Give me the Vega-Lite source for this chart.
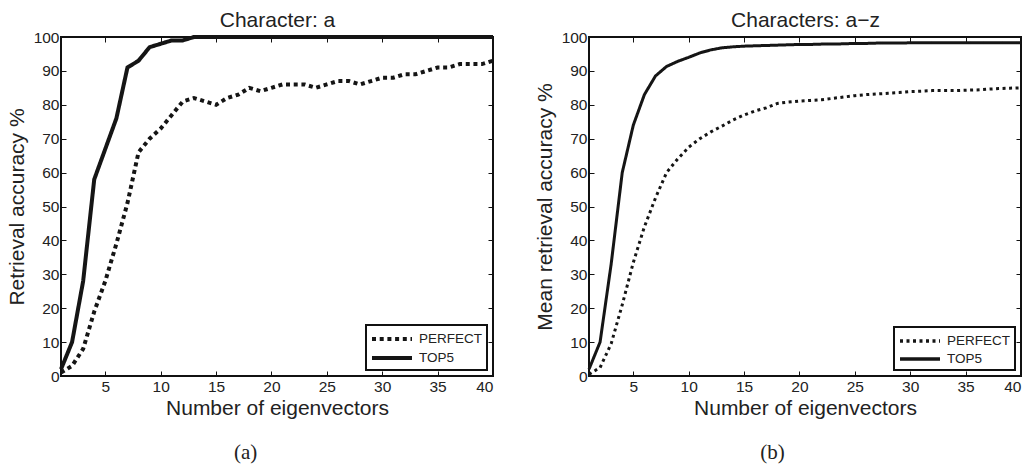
{
  "$schema": "https://vega.github.io/schema/vega-lite/v6.json",
  "padding": {"left": 5, "top": 8, "right": 5, "bottom": 5},
  "background": "white",
  "config": {
    "font": "Liberation Sans",
    "view": {"stroke": "#111", "strokeWidth": 2},
    "axis": {"grid": false, "domain": false, "tickColor": "#111", "tickWidth": 1, "tickSize": -5, "labelPadding": 8, "labelFontSize": 15.5, "labelColor": "#222", "titleFontSize": 21, "titleFontWeight": "normal", "titleColor": "#222"},
    "legend": {"strokeWidth": 2}
  },
  "datasets": {
    "a": [
      {"n": 1, "PERFECT": 1, "TOP5": 2}, {"n": 2, "PERFECT": 3, "TOP5": 10}, {"n": 3, "PERFECT": 8, "TOP5": 28},
      {"n": 4, "PERFECT": 19, "TOP5": 58}, {"n": 5, "PERFECT": 28, "TOP5": 67}, {"n": 6, "PERFECT": 39, "TOP5": 76},
      {"n": 7, "PERFECT": 51, "TOP5": 91}, {"n": 8, "PERFECT": 66, "TOP5": 93}, {"n": 9, "PERFECT": 70, "TOP5": 97},
      {"n": 10, "PERFECT": 73, "TOP5": 98}, {"n": 11, "PERFECT": 77, "TOP5": 99}, {"n": 12, "PERFECT": 81, "TOP5": 99},
      {"n": 13, "PERFECT": 82, "TOP5": 100}, {"n": 14, "PERFECT": 81, "TOP5": 100}, {"n": 15, "PERFECT": 80, "TOP5": 100},
      {"n": 16, "PERFECT": 82, "TOP5": 100}, {"n": 17, "PERFECT": 83, "TOP5": 100}, {"n": 18, "PERFECT": 85, "TOP5": 100},
      {"n": 19, "PERFECT": 84, "TOP5": 100}, {"n": 20, "PERFECT": 85, "TOP5": 100}, {"n": 21, "PERFECT": 86, "TOP5": 100},
      {"n": 22, "PERFECT": 86, "TOP5": 100}, {"n": 23, "PERFECT": 86, "TOP5": 100}, {"n": 24, "PERFECT": 85, "TOP5": 100},
      {"n": 25, "PERFECT": 86, "TOP5": 100}, {"n": 26, "PERFECT": 87, "TOP5": 100}, {"n": 27, "PERFECT": 87, "TOP5": 100},
      {"n": 28, "PERFECT": 86, "TOP5": 100}, {"n": 29, "PERFECT": 87, "TOP5": 100}, {"n": 30, "PERFECT": 88, "TOP5": 100},
      {"n": 31, "PERFECT": 88, "TOP5": 100}, {"n": 32, "PERFECT": 89, "TOP5": 100}, {"n": 33, "PERFECT": 89, "TOP5": 100},
      {"n": 34, "PERFECT": 90, "TOP5": 100}, {"n": 35, "PERFECT": 91, "TOP5": 100}, {"n": 36, "PERFECT": 91, "TOP5": 100},
      {"n": 37, "PERFECT": 92, "TOP5": 100}, {"n": 38, "PERFECT": 92, "TOP5": 100}, {"n": 39, "PERFECT": 92, "TOP5": 100},
      {"n": 40, "PERFECT": 93, "TOP5": 100}
    ],
    "b": [
      {"n": 1, "PERFECT": 0.5, "TOP5": 2}, {"n": 2, "PERFECT": 2.5, "TOP5": 10}, {"n": 3, "PERFECT": 9.5, "TOP5": 33},
      {"n": 4, "PERFECT": 21, "TOP5": 60}, {"n": 5, "PERFECT": 33.5, "TOP5": 74}, {"n": 6, "PERFECT": 44, "TOP5": 83},
      {"n": 7, "PERFECT": 52.5, "TOP5": 88.5}, {"n": 8, "PERFECT": 60, "TOP5": 91.3}, {"n": 9, "PERFECT": 64, "TOP5": 92.8},
      {"n": 10, "PERFECT": 67.5, "TOP5": 94}, {"n": 11, "PERFECT": 70, "TOP5": 95.3}, {"n": 12, "PERFECT": 72, "TOP5": 96.2},
      {"n": 13, "PERFECT": 73.7, "TOP5": 96.8}, {"n": 14, "PERFECT": 75.5, "TOP5": 97.1}, {"n": 15, "PERFECT": 77, "TOP5": 97.3},
      {"n": 16, "PERFECT": 78.2, "TOP5": 97.4}, {"n": 17, "PERFECT": 79.1, "TOP5": 97.5}, {"n": 18, "PERFECT": 80.4, "TOP5": 97.6},
      {"n": 19, "PERFECT": 80.8, "TOP5": 97.7}, {"n": 20, "PERFECT": 81.1, "TOP5": 97.8}, {"n": 21, "PERFECT": 81.3, "TOP5": 97.8},
      {"n": 22, "PERFECT": 81.5, "TOP5": 97.9}, {"n": 23, "PERFECT": 81.9, "TOP5": 97.9}, {"n": 24, "PERFECT": 82.3, "TOP5": 98},
      {"n": 25, "PERFECT": 82.7, "TOP5": 98.1}, {"n": 26, "PERFECT": 83, "TOP5": 98.1}, {"n": 27, "PERFECT": 83.2, "TOP5": 98.2},
      {"n": 28, "PERFECT": 83.4, "TOP5": 98.2}, {"n": 29, "PERFECT": 83.6, "TOP5": 98.2}, {"n": 30, "PERFECT": 83.9, "TOP5": 98.3},
      {"n": 31, "PERFECT": 84, "TOP5": 98.3}, {"n": 32, "PERFECT": 84.2, "TOP5": 98.3}, {"n": 33, "PERFECT": 84.2, "TOP5": 98.3},
      {"n": 34, "PERFECT": 84.2, "TOP5": 98.3}, {"n": 35, "PERFECT": 84.3, "TOP5": 98.3}, {"n": 36, "PERFECT": 84.4, "TOP5": 98.3},
      {"n": 37, "PERFECT": 84.6, "TOP5": 98.3}, {"n": 38, "PERFECT": 84.8, "TOP5": 98.3}, {"n": 39, "PERFECT": 84.9, "TOP5": 98.3},
      {"n": 40, "PERFECT": 85, "TOP5": 98.3}
    ]
  },
  "spacing": 31,
  "resolve": {"scale": {"strokeDash": "independent"}, "legend": {"strokeDash": "independent"}},
  "hconcat": [
    {
      "width": 432, "height": 339,
      "data": {"name": "a"},
      "transform": [{"fold": ["PERFECT", "TOP5"], "as": ["series", "acc"]}],
      "title": {"text": "(a)", "orient": "bottom", "frame": "bounds", "anchor": "middle", "font": "Liberation Serif", "fontSize": 21, "fontWeight": "normal", "color": "#222", "offset": 23, "dx": -8},
      "layer": [
        {
          "mark": {"type": "line", "strokeWidth": 4, "strokeCap": "butt", "color": "#151515"},
          "encoding": {
            "x": {"field": "n", "type": "quantitative", "scale": {"domain": [1, 40], "nice": false, "zero": false}, "axis": {"values": [5, 10, 15, 20, 25, 30, 35, 40], "title": "Number of eigenvectors", "titlePadding": 3}},
            "y": {"field": "acc", "type": "quantitative", "scale": {"domain": [0, 100], "nice": false}, "axis": {"values": [0, 10, 20, 30, 40, 50, 60, 70, 80, 90, 100], "title": "Retrieval accuracy %", "labelPadding": 7, "titlePadding": 6}},
            "strokeDash": {"field": "series", "type": "nominal", "scale": {"domain": ["PERFECT", "TOP5"], "range": [[4, 3.7], [1, 0]]},
              "legend": {"orient": "bottom-right", "title": null, "offset": 6, "padding": 4, "strokeColor": "#111", "fillColor": "white", "symbolType": "M-1,0H4", "symbolSize": 256, "symbolStrokeWidth": 4, "symbolStrokeColor": "#151515", "labelFontSize": 13.5, "labelColor": "#222", "labelOffset": 29, "rowPadding": 1}}
          }
        },
        {
          "mark": {"type": "line", "opacity": 0},
          "encoding": {
            "x": {"field": "n", "type": "quantitative", "axis": {"orient": "top", "values": [5, 10, 15, 20, 25, 30, 35, 40], "labels": false, "title": "Character: a", "titlePadding": 6}},
            "y": {"field": "acc", "type": "quantitative", "axis": {"orient": "right", "values": [0, 10, 20, 30, 40, 50, 60, 70, 80, 90, 100], "labels": false, "title": null}}
          }
        }
      ],
      "resolve": {"axis": {"x": "independent", "y": "independent"}}
    },
    {
      "width": 432, "height": 339,
      "data": {"name": "b"},
      "transform": [{"fold": ["PERFECT", "TOP5"], "as": ["series", "acc"]}],
      "title": {"text": "(b)", "orient": "bottom", "frame": "bounds", "anchor": "middle", "font": "Liberation Serif", "fontSize": 21, "fontWeight": "normal", "color": "#222", "offset": 23, "dx": -8},
      "layer": [
        {
          "mark": {"type": "line", "strokeWidth": 3, "strokeCap": "butt", "color": "#151515"},
          "encoding": {
            "x": {"field": "n", "type": "quantitative", "scale": {"domain": [1, 40], "nice": false, "zero": false}, "axis": {"values": [5, 10, 15, 20, 25, 30, 35, 40], "title": "Number of eigenvectors", "titlePadding": 3}},
            "y": {"field": "acc", "type": "quantitative", "scale": {"domain": [0, 100], "nice": false}, "axis": {"values": [0, 10, 20, 30, 40, 50, 60, 70, 80, 90, 100], "title": "Mean retrieval accuracy %", "labelPadding": 7, "titlePadding": 6}},
            "strokeDash": {"field": "series", "type": "nominal", "scale": {"domain": ["PERFECT", "TOP5"], "range": [[3, 3.5], [1, 0]]},
              "legend": {"orient": "bottom-right", "title": null, "offset": 6, "padding": 4, "strokeColor": "#111", "fillColor": "white", "symbolType": "M-1,0H4", "symbolSize": 256, "symbolStrokeWidth": 3.5, "symbolStrokeColor": "#151515", "labelFontSize": 13.5, "labelColor": "#222", "labelOffset": 29, "rowPadding": 1}}
          }
        },
        {
          "mark": {"type": "line", "opacity": 0},
          "encoding": {
            "x": {"field": "n", "type": "quantitative", "axis": {"orient": "top", "values": [5, 10, 15, 20, 25, 30, 35, 40], "labels": false, "title": "Characters: a\u2212z", "titlePadding": 6}},
            "y": {"field": "acc", "type": "quantitative", "axis": {"orient": "right", "values": [0, 10, 20, 30, 40, 50, 60, 70, 80, 90, 100], "labels": false, "title": null}}
          }
        }
      ],
      "resolve": {"axis": {"x": "independent", "y": "independent"}}
    }
  ]
}
